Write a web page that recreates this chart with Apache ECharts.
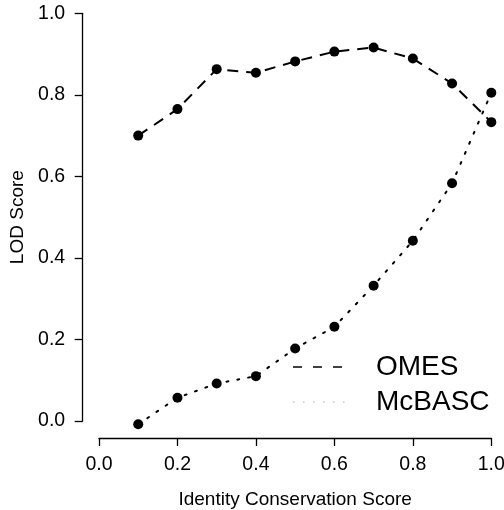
<!DOCTYPE html>
<html>
<head>
<meta charset="utf-8">
<script src="https://cdn.jsdelivr.net/npm/echarts@6/dist/echarts.min.js"></script>
<style>
html,body{margin:0;padding:0;background:#fff;}
#chart{width:504px;height:510px;}
</style>
</head>
<body>
<div id="chart"></div>
<script>
// Data
var xValues = [0.1, 0.2, 0.3, 0.4, 0.5, 0.6, 0.7, 0.8, 0.9, 1.0];
var omes = [0.700, 0.765, 0.863, 0.854, 0.882, 0.906, 0.916, 0.889, 0.828, 0.733];
var mcbasc = [-0.008, 0.057, 0.092, 0.110, 0.178, 0.231, 0.332, 0.442, 0.583, 0.805];
var seriesNames = ['OMES', 'McBASC'];
var xTitle = 'Identity Conservation Score';
var yTitle = 'LOD Score';

function pairs(xs, ys) {
  return xs.map(function (x, i) { return [x, ys[i]]; });
}

var FONT = 'Liberation Sans, Arial, Helvetica, sans-serif';
var chart = echarts.init(document.getElementById('chart'), null, {renderer: 'canvas'});

var axisCommon = {
  type: 'value',
  min: 0,
  max: 1,
  interval: 0.2,
  nameLocation: 'middle',
  nameTextStyle: {color: '#000', fontSize: 19, fontFamily: FONT},
  axisLine: {show: true, onZero: false, lineStyle: {color: '#000', width: 1.3}},
  axisTick: {show: true, inside: false, length: 8, lineStyle: {color: '#000', width: 1.3}},
  axisLabel: {color: '#000', fontSize: 19.5, fontFamily: FONT,
    formatter: function (v) { return v.toFixed(1); }},
  splitLine: {show: false}
};

chart.setOption({
  backgroundColor: '#fff',
  animation: false,
  grid: {left: 99, right: 12.7, top: 13.3, bottom: 89, containLabel: false, outerBoundsMode: 'none'},
  xAxis: Object.assign({}, axisCommon, {
    name: xTitle,
    nameGap: 52,
    offset: 17,
    axisLabel: Object.assign({}, axisCommon.axisLabel, {margin: 17, showMinLabel: true, showMaxLabel: true})
  }),
  yAxis: Object.assign({}, axisCommon, {
    name: yTitle,
    nameGap: 49,
    offset: 16.3,
    axisLabel: Object.assign({}, axisCommon.axisLabel, {margin: 17.5, showMinLabel: true, showMaxLabel: true})
  }),
  series: [
    {
      name: seriesNames[0],
      type: 'line',
      data: pairs(xValues, omes),
      symbol: 'circle',
      symbolSize: 10,
      itemStyle: {color: '#000'},
      lineStyle: {color: '#000', width: 2, type: [11, 8]},
      clip: false
    },
    {
      name: seriesNames[1],
      type: 'line',
      data: pairs(xValues, mcbasc),
      symbol: 'circle',
      symbolSize: 10,
      itemStyle: {color: '#000'},
      lineStyle: {color: '#000', width: 2, type: [2, 9], cap: 'round'},
      clip: false
    }
  ],
  graphic: [
    {type: 'line', shape: {x1: 293, y1: 367, x2: 343, y2: 367},
      style: {stroke: '#000', lineWidth: 1.5, lineDash: [9, 11]}},
    {type: 'line', shape: {x1: 293, y1: 402, x2: 348, y2: 402},
      style: {stroke: '#b0b0b0', lineWidth: 1.2, lineDash: [1.5, 8.5]}},
    {type: 'text', left: 376, top: 353,
      style: {text: seriesNames[0], font: '28px ' + FONT, fill: '#000'}},
    {type: 'text', left: 376, top: 388,
      style: {text: seriesNames[1], font: '28px ' + FONT, fill: '#000'}}
  ]
});
</script>
</body>
</html>
